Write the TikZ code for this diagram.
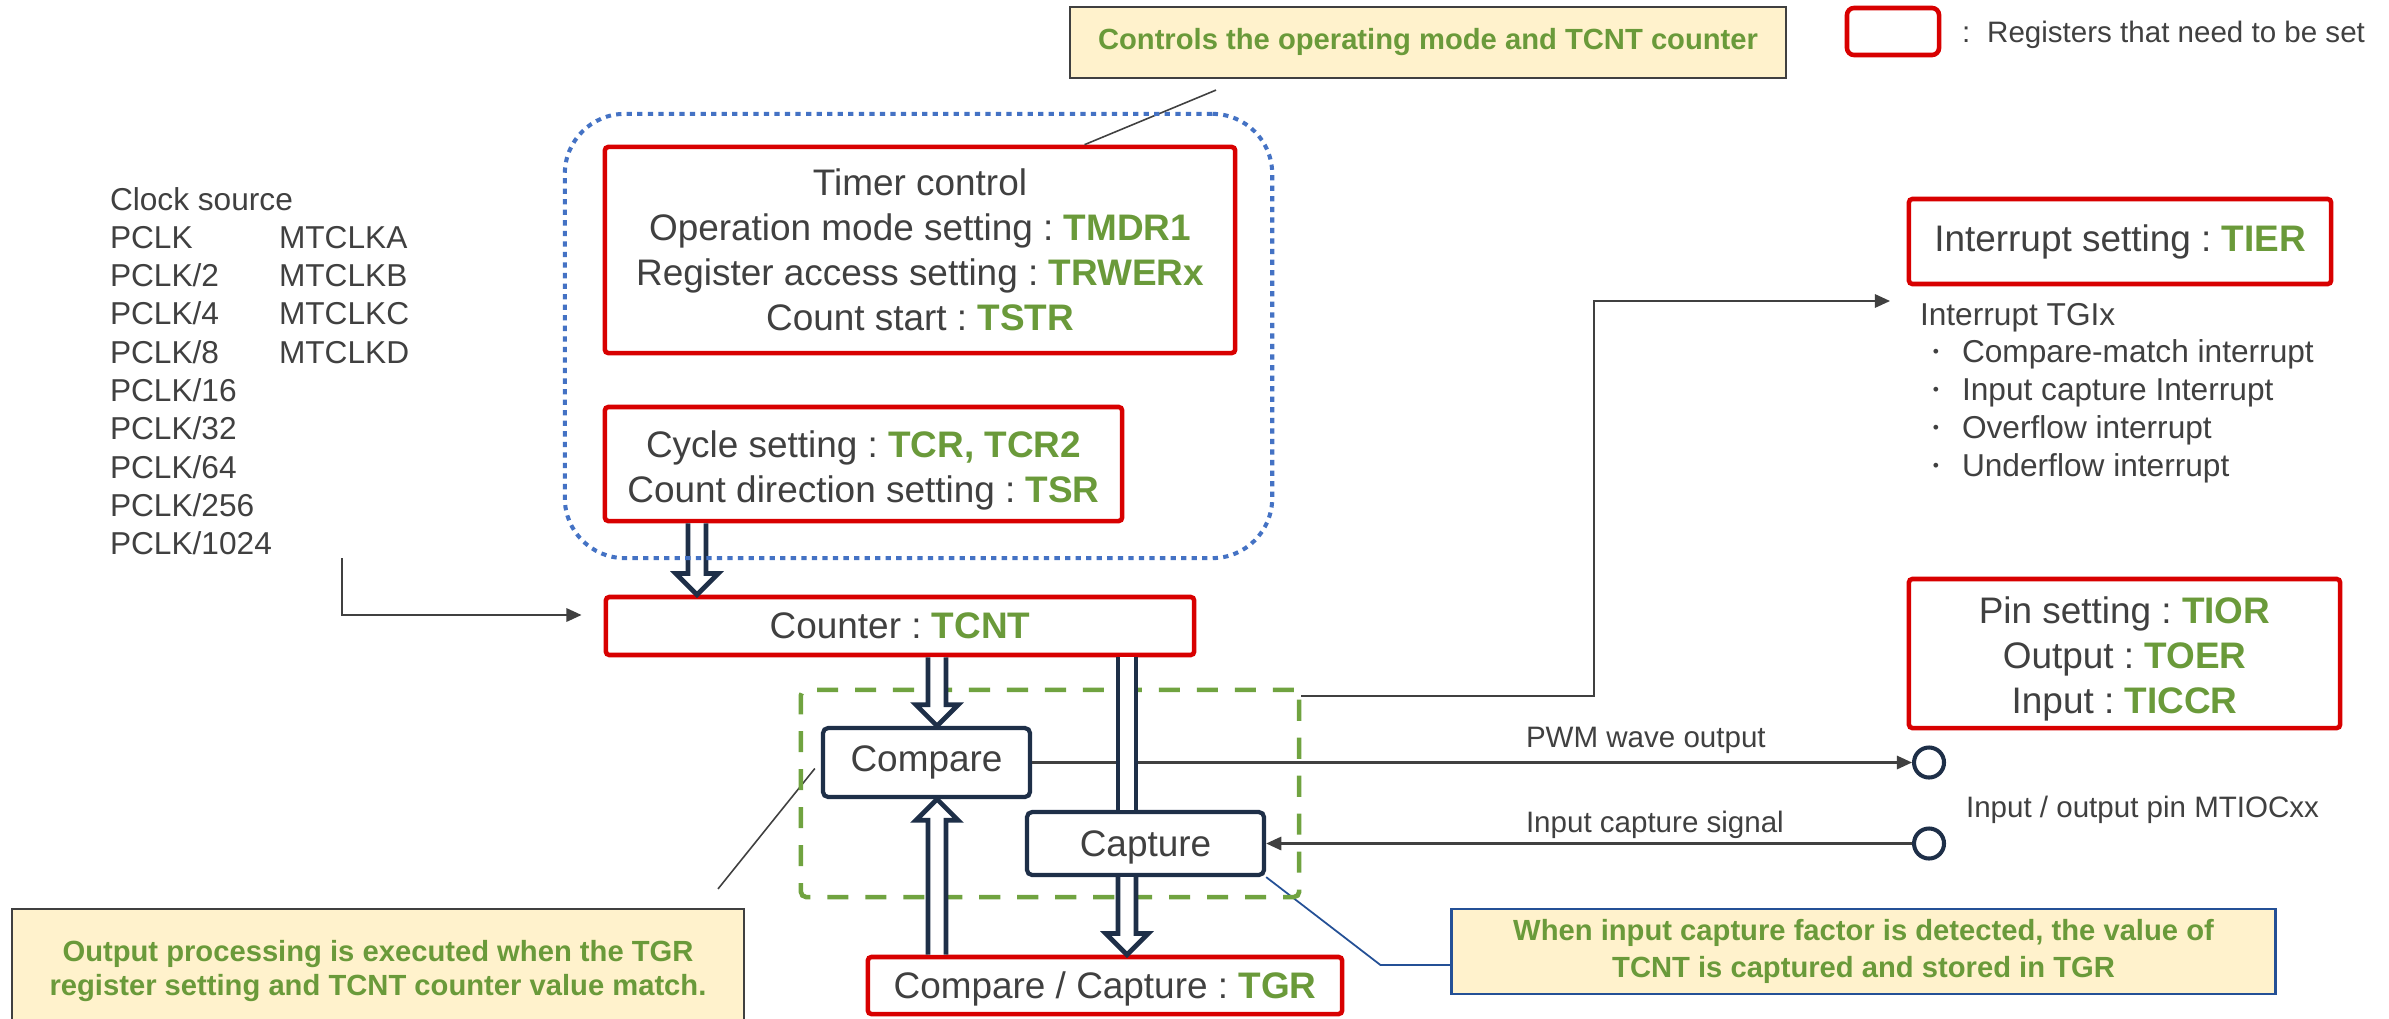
\documentclass[tikz,border=0pt]{standalone}
\usepackage{fontspec}
\setmainfont{Liberation Sans}
\usetikzlibrary{arrows.meta,calc}
\frenchspacing

\definecolor{regred}{RGB}{216,0,0}
\definecolor{reggreen}{RGB}{106,154,58}
\definecolor{txtgray}{RGB}{64,64,64}
\definecolor{navy}{RGB}{30,47,72}
\definecolor{notefill}{RGB}{255,242,204}
\definecolor{dotblue}{RGB}{68,114,196}
\definecolor{leadblue}{RGB}{36,80,150}
\definecolor{grpgreen}{RGB}{112,163,64}

\newcommand\fbig{\fontsize{10.5pt}{12.8pt}\selectfont}
\newcommand\fclk{\fontsize{9pt}{10.9pt}\selectfont}
\newcommand\fsmall{\fontsize{8.4pt}{10pt}\selectfont}
\newcommand\regname[1]{\textbf{\textcolor{reggreen}{#1}}}
\newcommand\listdot{\llap{\raisebox{1.4pt}{\fontsize{5pt}{5pt}\selectfont •}\hspace{0.23cm}}}

% hollow block arrow on a vertical line, from #1 to the tip at #2
\newcommand\hollowarrow[2]{%
  \path[hollow] let \p1=(#1), \p2=(#2), \n1={sign(\y2-\y1)} in
    ({\x1-2.56pt},\y1) -- ({\x1-2.56pt},{\y2-\n1*6pt}) -- ({\x1-6pt},{\y2-\n1*6pt})
    -- (\x1,\y2) -- ({\x1+6pt},{\y2-\n1*6pt}) -- ({\x1+2.56pt},{\y2-\n1*6pt})
    -- ({\x1+2.56pt},\y1);}
% hollow bar without a head, from #1 to #2
\newcommand\hollowbar[2]{%
  \fill[white] let \p1=(#1), \p2=(#2) in ({\x1-2.56pt},\y1) rectangle ({\x1+2.56pt},\y2);
  \draw[hollow] let \p1=(#1), \p2=(#2) in
    ({\x1-2.56pt},\y1) -- ({\x1-2.56pt},\y2) ({\x1+2.56pt},\y1) -- ({\x1+2.56pt},\y2);}

\begin{document}
\begin{tikzpicture}[x=0.01cm,y=-0.01cm,
  txt/.style={text=txtgray,inner sep=0,outer sep=0},
  regbox/.style={draw=regred,line width=1.3pt,rounded corners=1pt,inner sep=0,
    align=center,text=txtgray,font=\fbig},
  blkbox/.style={draw=navy,line width=1.2pt,rounded corners=1.5pt,inner sep=0,
    text=txtgray,font=\fbig},
  note/.style={fill=notefill,draw=txtgray,line width=0.6pt,inner sep=0,align=center,
    text=reggreen,font={\fontsize{8.3pt}{9.4pt}\selectfont\bfseries}},
  conn/.style={draw=txtgray,line width=0.6pt},
  tip/.style={-{Triangle[length=4.3pt,width=3.8pt]}},
  leader/.style={draw=txtgray,line width=0.45pt},
  hollow/.style={draw=navy,fill=white,line width=1.35pt,line join=miter},
  pinmark/.style={circle,draw=navy,line width=1.15pt,minimum size=0.30cm,inner sep=0}]

\useasboundingbox (0,0) rectangle (2389,1018);
\fill[white] (0,0) rectangle (2389,1018);

% call-out notes
\node[note,minimum width=7.16cm,minimum height=0.71cm] (note1) at (1428,42.5)
  {Controls the operating mode and TCNT counter};
\node[note,draw=leadblue,line width=0.75pt,minimum width=8.23cm,minimum height=0.85cm,
  font={\fontsize{8.3pt}{10.5pt}\selectfont\bfseries}] (note2) at (1863.5,951.5)
  {When input capture factor is detected, the value of\\TCNT is captured and stored in TGR};
\node[note,minimum width=7.32cm,minimum height=1.24cm] (note3) at (378,971)
  {Output processing is executed when the TGR\\register setting and TCNT counter value match.};

% legend
\node[regbox,minimum width=0.92cm,minimum height=0.47cm,rounded corners=2pt] (legend) at (1893,31.5) {};
\node[txt,font=\fsmall,anchor=base west] (legendtxt) at (1962,42) {:\hspace{0.17cm}Registers that need to be set};

% register boxes
\node[regbox,minimum width=6.30cm,minimum height=2.06cm] (tmr) at (920,250)
  {Timer control\\Operation mode setting : \regname{TMDR1}\\Register access setting : \regname{TRWERx}\\Count start : \regname{TSTR}};
\node[regbox,minimum width=5.17cm,minimum height=1.14cm] (cyc) at (863.5,464)
  {\rule{0pt}{0.40cm}Cycle setting : \regname{TCR, TCR2}\\Count direction setting : \regname{TSR}};
\node[regbox,minimum width=5.88cm,minimum height=0.58cm] (cnt) at (900,626)
  {Counter : \regname{TCNT}};
\node[regbox,minimum width=4.74cm,minimum height=0.57cm] (tgr) at (1105,985.5)
  {\rule{0pt}{0.33cm}Compare / Capture : \regname{TGR}};
\node[regbox,minimum width=4.22cm,minimum height=0.85cm] (tier) at (2120,241.5)
  {Interrupt setting : \regname{TIER}};
\node[regbox,minimum width=4.31cm,minimum height=1.49cm] (pin) at (2124.5,653.5)
  {\rule{0pt}{0.38cm}Pin setting : \regname{TIOR}\\Output : \regname{TOER}\\Input : \regname{TICCR}};

% compare / capture blocks
\node[blkbox,minimum width=2.07cm,minimum height=0.69cm] (cmp) at (926.5,762.5) {Compare};
\node[blkbox,minimum width=2.37cm,minimum height=0.63cm] (cap) at (1145.5,843.5) {\rule{0pt}{0.34cm}Capture};

% pins
\node[pinmark] (pinA) at (1929,762.5) {};
\node[pinmark] (pinB) at (1929,843.5) {};

% clock sources
\foreach \t [count=\i from 0] in {Clock source,PCLK,PCLK/2,PCLK/4,PCLK/8,PCLK/16,PCLK/32,PCLK/64,PCLK/256,PCLK/1024}
  \node[txt,font=\fclk,anchor=base west] (clk\i) at (110,{210+38.3*\i}) {\t};
\foreach \t [count=\i] in {MTCLKA,MTCLKB,MTCLKC,MTCLKD}
  \node[txt,font=\fclk,anchor=base west] (mtclk\i) at (279,{210+38.3*\i}) {\t};

% interrupt sources
\node[txt,font=\fclk,anchor=base west] (tgi) at (1920,325) {Interrupt TGIx};
\foreach \t [count=\i] in {Compare-match interrupt,Input capture Interrupt,Overflow interrupt,Underflow interrupt}
  \node[txt,font=\fclk,anchor=base west] (irq\i) at (1962,{325+37.75*\i}) {\listdot\t};

% signal labels
\node[txt,font=\fsmall,anchor=base west] (pwmlbl) at (1526,747) {PWM wave output};
\node[txt,font=\fsmall,anchor=base west] (icslbl) at (1526,832) {Input capture signal};
\node[txt,font=\fsmall,anchor=base west] (pinlbl) at (1966,817) {Input / output pin MTIOCxx};

% signal lines
\coordinate (clkout) at (342,558);
\draw[conn,tip] (clkout) |- ($(cnt.west)+(-22,-11)$);
\draw[conn,tip] (cmp.east) -- (cmp.east -| pinA.west);
\draw[conn,tip] (pinB.west) -- (pinB.west -| cap.east);

% leader lines of the notes
\draw[leader] ($(note1.south)+(-212,11)$) -- ($(tmr.north west)+(482,0)$);
\draw[leader] ($(note3.north)+(340,-19)$) -- ($(cmp.west)+(-6,6)$);
\draw[leader,draw=leadblue,line width=0.5pt] (cap.south east) -- ($(note2.west)+(-70,13.5)$) -- ($(note2.west)+(0,13.5)$);

% compare / capture group
\node[draw=grpgreen,line width=1.3pt,dash pattern=on 6pt off 4.8pt,rounded corners=1.5pt,
  minimum width=4.98cm,minimum height=2.07cm,inner sep=0] (grp) at (1050,793.5) {};

% interrupt request
\coordinate (irqin) at (1890,301);
\draw[conn,tip] ($(grp.north east)+(0,8)$) -| ($(irqin)+(-296,0)$) -- (irqin);

% data paths
\coordinate (xA) at (697,0);
\coordinate (xB) at (937,0);
\coordinate (xC) at (1127,0);
\hollowarrow{xA |- cyc.south}{xA |- cnt.north}
\hollowarrow{xB |- cnt.south}{xB |- cmp.north}
\hollowarrow{xB |- tgr.north}{xB |- cmp.south}
\hollowbar{xC |- cnt.south}{xC |- cap.north}
\hollowarrow{xC |- cap.south}{xC |- tgr.north}

% timer control group
\node[draw=dotblue,line width=1.15pt,dash pattern=on 1.5pt off 1.5pt,rounded corners=0.6cm,
  minimum width=7.07cm,minimum height=4.44cm,inner sep=0] (ctl) at (918.5,336) {};
\end{tikzpicture}
\end{document}
